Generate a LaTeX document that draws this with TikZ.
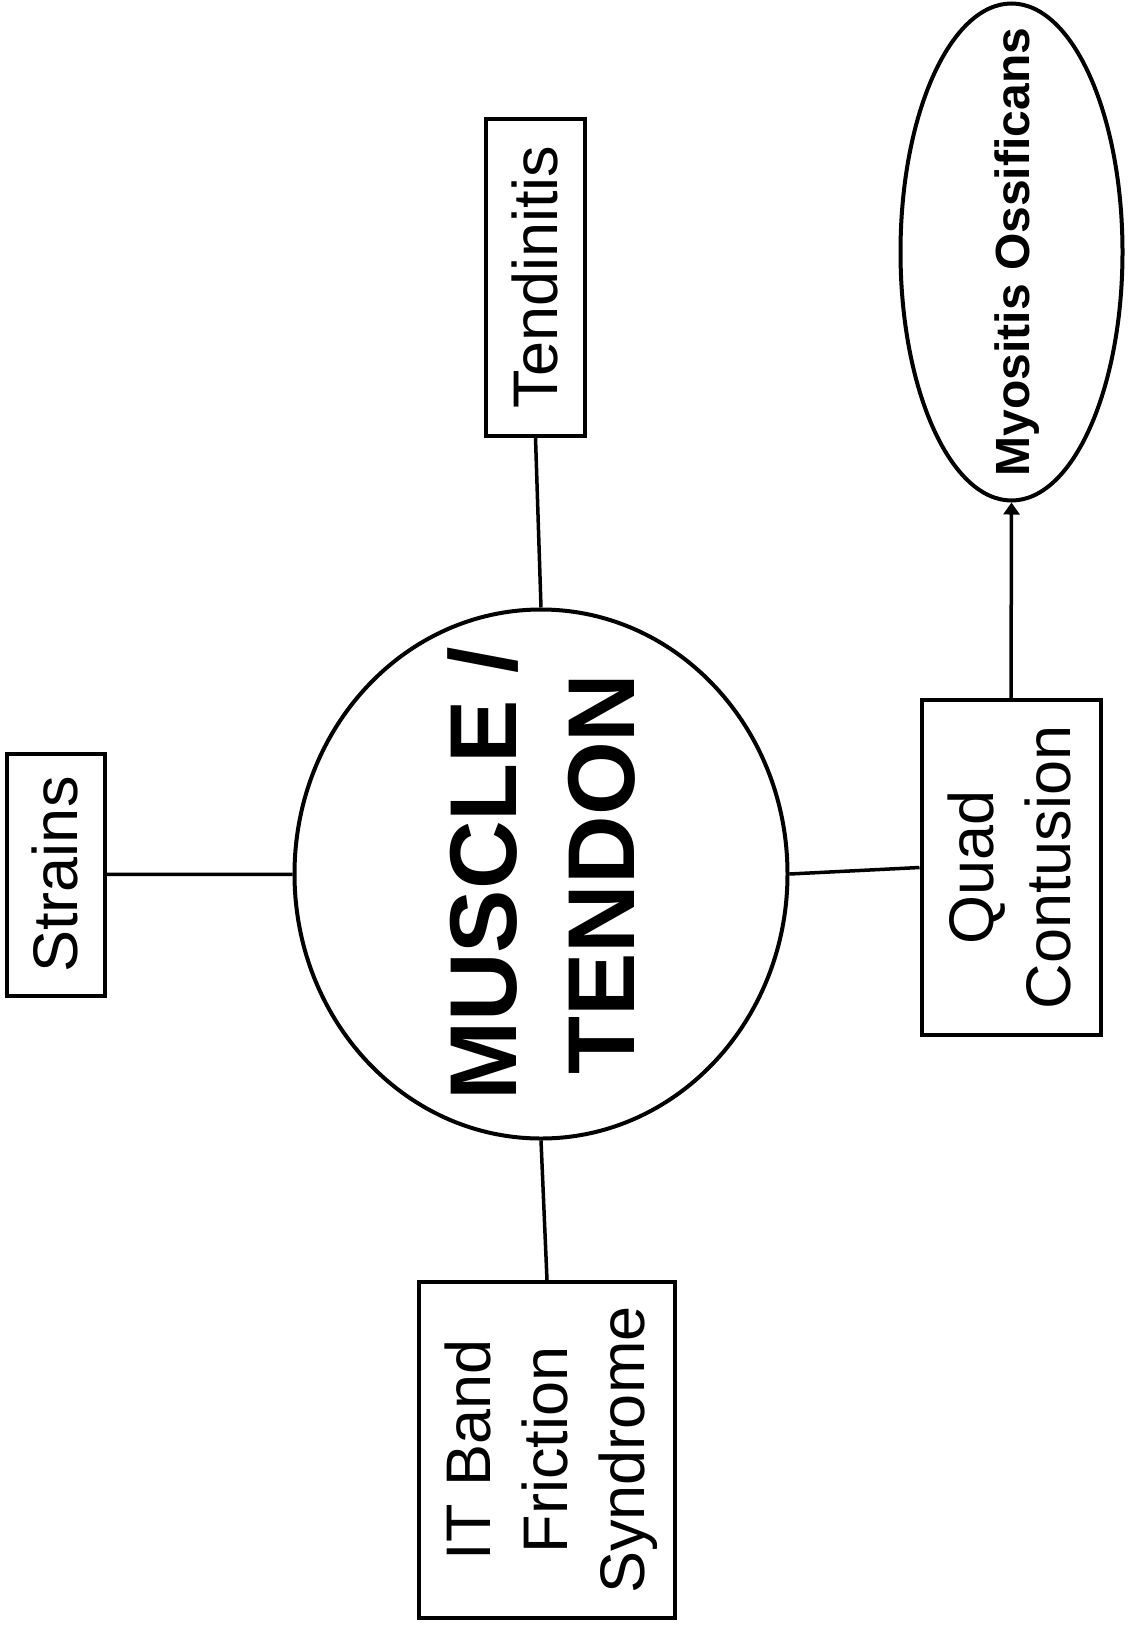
\documentclass[tikz,border=0pt]{standalone}
\usepackage{fontspec}
\usepackage{graphicx}
\usetikzlibrary{shapes.geometric,arrows.meta}
\setmainfont{Liberation Sans}
\newcommand\vtext[2][7pt]{\smash{\makebox[0pt]{\hspace*{#1}\hspace*{#1}\raisebox{-0.5\height}{\rotatebox{90}{\begin{tabular}{@{}c@{}}#2\end{tabular}}}}}}
\begin{document}
\begin{tikzpicture}[x=1pt,y=-1pt,
  box/.style={draw,line width=4pt,rectangle,inner sep=0pt},
  oval/.style={draw,line width=4pt,ellipse,inner sep=0pt},
  link/.style={line width=3.5pt},
  regtext/.style={font=\fontsize{63}{77}\selectfont},
  bigtext/.style={font=\bfseries\fontsize{95}{118}\selectfont},
  smalltext/.style={font=\bfseries\fontsize{48}{56}\selectfont}]
\useasboundingbox (0,0) rectangle (1131,1628);
\node[box,regtext,minimum width=98pt,minimum height=242pt] (strains) at (56,874.5) {\vtext[6pt]{Strains}};
\node[box,regtext,minimum width=99pt,minimum height=317pt] (tend) at (535.5,277) {\vtext[7pt]{Tendinitis}};
\node[box,regtext,minimum width=256pt,minimum height=336pt] (itb) at (547,1450) {\vtext[5pt]{IT Band\\Friction\\Syndrome}};
\node[box,regtext,minimum width=179pt,minimum height=335pt] (quad) at (1011,867.5) {\vtext[6pt]{Quad\\Contusion}};
\node[oval,bigtext,minimum width=493pt,minimum height=529pt] (muscle) at (541,874) {\vtext[11pt]{MUSCLE /\\TENDON}};
\node[oval,smalltext,minimum width=222pt,minimum height=497pt] (myo) at (1011.5,252) {\vtext[7pt]{Myositis Ossificans}};
\draw[link] (strains) -- (muscle);
\draw[link] (tend.south) -- (muscle.north);
\draw[link] (muscle.south) -- (itb.north);
\draw[link] (muscle.east) -- (quad.west);
\draw[link,-{Triangle[length=12pt,width=16pt]}] (quad.north) -- (myo.south);
\end{tikzpicture}
\end{document}
